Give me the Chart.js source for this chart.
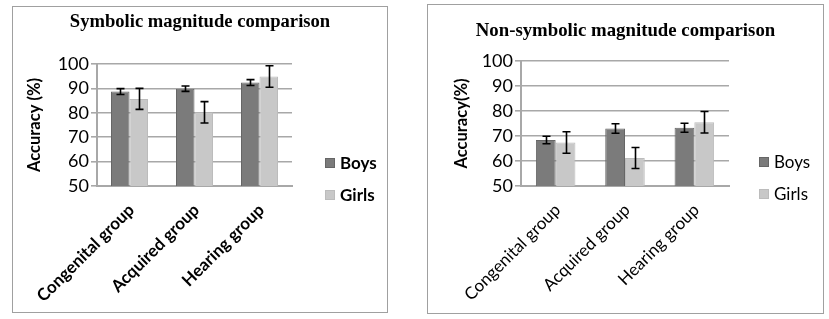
<!DOCTYPE html>
<html>
<head>
<meta charset="utf-8">
<script src="https://cdn.jsdelivr.net/npm/chart.js@4"></script>
<style>
    html, body { margin: 0; padding: 0; background: #fff; }
    body { width: 829px; height: 319px; position: relative; overflow: hidden; }
    .panel { position: absolute; border: 1px solid #a0a0a0; background: #fff; }
    .panel canvas { display: block; }
</style>
</head>
<body>
<div class="panel" style="left:12px;top:6px;width:374px;height:305px"><canvas id="chart-symbolic" width="374" height="305"></canvas></div>
<div class="panel" style="left:427px;top:4px;width:395px;height:308px"><canvas id="chart-nonsymbolic" width="395" height="308"></canvas></div>
<script>
(function () {
    'use strict';

    var CATEGORIES = ['Congenital group', 'Acquired group', 'Hearing group'];
    var SERIES_NAMES = ['Boys', 'Girls'];
    var Y_TICKS = [50, 60, 70, 80, 90, 100];

    // symbolic magnitude comparison, accuracy (%) and error bar half-lengths
    var SYM_BOYS = [88.7, 89.9, 92.4];
    var SYM_BOYS_ERR = [1.2, 1.1, 1.2];
    var SYM_GIRLS = [85.7, 80.2, 94.9];
    var SYM_GIRLS_ERR = [4.3, 4.4, 4.4];

    // non-symbolic magnitude comparison
    var NON_BOYS = [68.4, 73.0, 73.3];
    var NON_BOYS_ERR = [1.5, 1.9, 1.8];
    var NON_GIRLS = [67.4, 61.2, 75.5];
    var NON_GIRLS_ERR = [4.3, 4.2, 4.3];

    var BOYS_FILL = '#7b7b7b';
    var BOYS_EDGE = '#666666';
    var GIRLS_FILL = '#c8c8c8';
    var GIRLS_EDGE = '#bcbcbc';
    var GRID = '#a8a8a8';
    var SANS = 'Lato, "Open Sans", sans-serif';
    var SERIF = '"Liberation Serif", "Times New Roman", serif';

    // whiskers drawn through the y scale
    var errorBarPlugin = {
        id: 'errorBars',
        afterDatasetsDraw: function (chart) {
            var ctx = chart.ctx;
            var y = chart.scales.y;
            ctx.save();
            ctx.strokeStyle = '#000';
            ctx.lineWidth = 1.6;
            chart.data.datasets.forEach(function (ds, di) {
                var meta = chart.getDatasetMeta(di);
                if (!ds.errors) {
                    return;
                }
                meta.data.forEach(function (bar, i) {
                    var v = ds.data[i];
                    var e = ds.errors[i];
                    var top = y.getPixelForValue(v + e);
                    var bot = y.getPixelForValue(v - e);
                    var x = Math.round(bar.x) + 0.5;
                    ctx.beginPath();
                    ctx.moveTo(x, top);
                    ctx.lineTo(x, bot);
                    ctx.moveTo(x - 4, top);
                    ctx.lineTo(x + 4, top);
                    ctx.moveTo(x - 4, bot);
                    ctx.lineTo(x + 4, bot);
                    ctx.stroke();
                });
            });
            ctx.restore();
        }
    };

    // title centred on the whole panel, not on the padded layout box
    var panelTitlePlugin = {
        id: 'panelTitle',
        afterDraw: function (chart, args, opts) {
            var ctx = chart.ctx;
            ctx.save();
            ctx.font = 'bold ' + opts.size + 'px ' + SERIF;
            ctx.textAlign = 'center';
            ctx.textBaseline = 'middle';
            ctx.fillStyle = '#000';
            ctx.fillText(opts.text, chart.width / 2, opts.y);
            ctx.restore();
        }
    };

    // legend to the right of the plot, laid out like the office original
    var sideLegendPlugin = {
        id: 'sideLegend',
        afterDraw: function (chart, args, opts) {
            var ctx = chart.ctx;
            var x = chart.chartArea.right + opts.offsetX;
            ctx.save();
            ctx.font = (opts.bold ? 'bold ' : '') + opts.size + 'px ' + SANS;
            ctx.textBaseline = 'middle';
            chart.data.datasets.forEach(function (ds, i) {
                var cy = opts.y + i * opts.gap;
                ctx.fillStyle = ds.backgroundColor;
                ctx.fillRect(x, cy - 5, 10, 10);
                ctx.strokeStyle = ds.borderColor;
                ctx.lineWidth = 1;
                ctx.strokeRect(x + 0.5, cy - 4.5, 9, 9);
                ctx.fillStyle = '#000';
                ctx.fillText(ds.label, x + 15, cy + 1);
            });
            ctx.restore();
        }
    };

    function buildChart(canvas, cfg) {
        return new Chart(canvas, {
            type: 'bar',
            data: {
                labels: CATEGORIES,
                datasets: [{
                    label: SERIES_NAMES[0],
                    data: cfg.boys,
                    errors: cfg.boysErr,
                    backgroundColor: BOYS_FILL,
                    borderColor: BOYS_EDGE,
                    borderWidth: 1
                }, {
                    label: SERIES_NAMES[1],
                    data: cfg.girls,
                    errors: cfg.girlsErr,
                    backgroundColor: GIRLS_FILL,
                    borderColor: GIRLS_EDGE,
                    borderWidth: 1
                }]
            },
            options: {
                responsive: false,
                animation: false,
                events: [],
                datasets: {
                    bar: { categoryPercentage: 0.57, barPercentage: 1 }
                },
                layout: {
                    padding: { left: 0, right: cfg.padRight, top: cfg.padTop, bottom: 0 }
                },
                plugins: {
                    legend: { display: false },
                    tooltip: { enabled: false },
                    title: { display: false },
                    panelTitle: { text: cfg.title, y: cfg.titleY, size: cfg.titleSize },
                    sideLegend: { offsetX: cfg.legendX, y: cfg.legendY, gap: 32, size: 17, bold: cfg.bold }
                },
                scales: {
                    x: {
                        afterFit: function (s) { s.height = cfg.xHeight; },
                        grid: { display: false },
                        border: { color: GRID, width: 2 },
                        ticks: {
                            color: '#000',
                            minRotation: 45,
                            maxRotation: 45,
                            padding: 6,
                            labelOffset: 2,
                            font: { family: SANS, size: 17, weight: cfg.bold ? 'bold' : 'normal' }
                        }
                    },
                    y: {
                        min: Y_TICKS[0],
                        max: Y_TICKS[Y_TICKS.length - 1],
                        afterFit: function (s) { s.width = cfg.yWidth; },
                        afterBuildTicks: function (s) {
                            s.ticks = Y_TICKS.map(function (v) { return { value: v }; });
                        },
                        grid: { color: GRID, lineWidth: 1.6, tickLength: 6 },
                        border: { color: GRID, width: 2 },
                        ticks: {
                            color: '#000',
                            padding: 2,
                            autoSkip: false,
                            font: { family: SANS, size: 18 }
                        },
                        title: {
                            display: true,
                            text: cfg.yTitle,
                            color: '#000',
                            font: { family: SANS, size: 16.5, weight: 'bold', lineHeight: 1.2 },
                            padding: { top: cfg.yTitlePad, bottom: 0 }
                        }
                    }
                }
            },
            plugins: [errorBarPlugin, panelTitlePlugin, sideLegendPlugin]
        });
    }

    buildChart(document.getElementById('chart-symbolic'), {
        title: 'Symbolic magnitude comparison',
        yTitle: 'Accuracy (%)',
        boys: SYM_BOYS, boysErr: SYM_BOYS_ERR,
        girls: SYM_GIRLS, girlsErr: SYM_GIRLS_ERR,
        bold: true,
        padRight: 95, padTop: 57, titleY: 15, titleSize: 18.6,
        xHeight: 126, yWidth: 84, yTitlePad: 12,
        legendX: 33, legendY: 156
    });

    buildChart(document.getElementById('chart-nonsymbolic'), {
        title: 'Non-symbolic magnitude comparison',
        yTitle: 'Accuracy(%)',
        boys: NON_BOYS, boysErr: NON_BOYS_ERR,
        girls: NON_GIRLS, girlsErr: NON_GIRLS_ERR,
        bold: false,
        padRight: 94, padTop: 56, titleY: 26, titleSize: 18.8,
        xHeight: 127, yWidth: 93, yTitlePad: 24,
        legendX: 30, legendY: 157
    });
})();
</script>
</body>
</html>
